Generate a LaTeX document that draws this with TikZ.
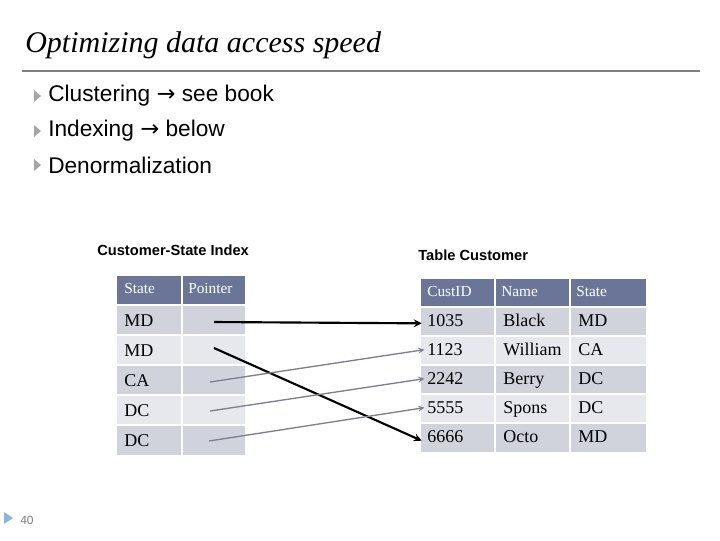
\documentclass[tikz,border=0pt]{standalone}
\usepackage{fontspec}
\setmainfont{Liberation Serif}
\newfontfamily\arial{Liberation Sans}
\newfontfamily\dv{DejaVu Sans}
\begin{document}
\begin{tikzpicture}[x=0.75pt,y=-0.75pt,
  tx/.style={anchor=west,inner sep=0,text height=9pt,text depth=2pt,font=\fontsize{13.5}{14}\selectfont},
  ht/.style={anchor=west,inner sep=0,text height=8pt,text depth=2pt,text=white,font=\fontsize{11.5}{12}\selectfont},
  bl/.style={anchor=west,font=\arial\fontsize{17}{18}\selectfont,inner sep=0},
  bk/.style={->,>=stealth,line width=1.6pt,black},
  gr/.style={->,>=stealth,line width=1pt,arr}]
\definecolor{hdr}{HTML}{6B7597}
\definecolor{rowa}{HTML}{D0D3DC}
\definecolor{rowb}{HTML}{E7E8ED}
\definecolor{arr}{HTML}{7A7F96}
\definecolor{tri}{HTML}{8CB4D8}
\useasboundingbox (0,0) rectangle (720,540);
\fill[white] (0,0) rectangle (720,540);
\node[anchor=west,inner sep=0,font=\itshape\fontsize{22.5}{24}\selectfont] (title) at (25,45) {Optimizing data access speed};
\draw[gray,line width=1pt] (22,71) -- (700,71);
\foreach \y/\t [count=\i] in {96/{Clustering {\dv →} see book},131/{Indexing {\dv →} below},165/{Denormalization}}{
  \fill[gray!70] (34,\y-6) -- (41,\y) -- (34,\y+6) -- cycle;
  \node[bl] (b\i) at (48,\y) {\t};
}
\node[anchor=west,inner sep=0,font=\arial\bfseries\fontsize{11}{12}\selectfont] (l1) at (97,250) {Customer-State Index};
\node[anchor=west,inner sep=0,font=\arial\bfseries\fontsize{11}{12}\selectfont] (l2) at (418,255) {Table Customer};
% left table
\foreach \x/\X/\t [count=\c] in {117/181/State,181/245/Pointer}{
  \fill[hdr] (\x,276) rectangle (\X,305);
  \node[ht] (lh\c) at (\x+7,289) {\t};
}
\foreach \y/\t/\f [count=\r] in {306/MD/rowa,336/MD/rowb,366/CA/rowa,396/DC/rowb,426/DC/rowa}{
  \fill[\f] (117,\y) rectangle (245,\y+29);
  \node[tx] (lr\r) at (124,\y+16) {\t};
}
\draw[white,line width=1.5pt] (182,276) -- (182,456);
\foreach \y in {305,335,365,395,425}{\draw[white,line width=1.5pt] (117,\y) -- (245,\y);}
% right table
\foreach \x/\X/\t [count=\c] in {421/495/CustID,495/570/Name,570/646/State}{
  \fill[hdr] (\x,279) rectangle (\X,306);
  \node[ht] (rh\c) at (\x+6,292) {\t};
}
\foreach \y/\a/\b/\s/\f [count=\r] in {308/1035/Black/MD/rowa,337/1123/William/CA/rowb,366/2242/Berry/DC/rowa,395/5555/Spons/DC/rowb,424/6666/Octo/MD/rowa}{
  \fill[\f] (421,\y) rectangle (646,\y+28);
  \node[tx] (c\r) at (427,\y+14) {\a};
  \node[tx] (n\r) at (503,\y+14) {\b};
  \node[tx] (s\r) at (578,\y+14) {\s};
}
\draw[white,line width=1.5pt] (495,279) -- (495,452) (570,279) -- (570,452);
\foreach \y in {307,336,365,394,423}{\draw[white,line width=1.5pt] (421,\y) -- (646,\y);}
% arrows
\coordinate (p1) at (214,322);
\coordinate (p2) at (214,348);
\coordinate (p3) at (210,382);
\coordinate (p4) at (210,411);
\coordinate (p5) at (209,441);
\draw[bk] (p1) -- ([xshift=-4pt,yshift=-1pt]c1.west);
\draw[bk] (p2) -- ([xshift=-4pt,yshift=-2pt]c5.west);
\draw[gr] (p3) -- ([xshift=-2pt,yshift=1pt]c2.west);
\draw[gr] (p4) -- ([xshift=-2pt,yshift=1pt]c3.west);
\draw[gr] (p5) -- ([xshift=-2pt,yshift=1pt]c4.west);
% footer
\fill[tri] (4,512) -- (13,518) -- (4,524) -- cycle;
\node[anchor=west,inner sep=0,font=\arial\fontsize{9}{10}\selectfont,text=gray] (pg) at (20,520) {40};
\end{tikzpicture}
\end{document}
